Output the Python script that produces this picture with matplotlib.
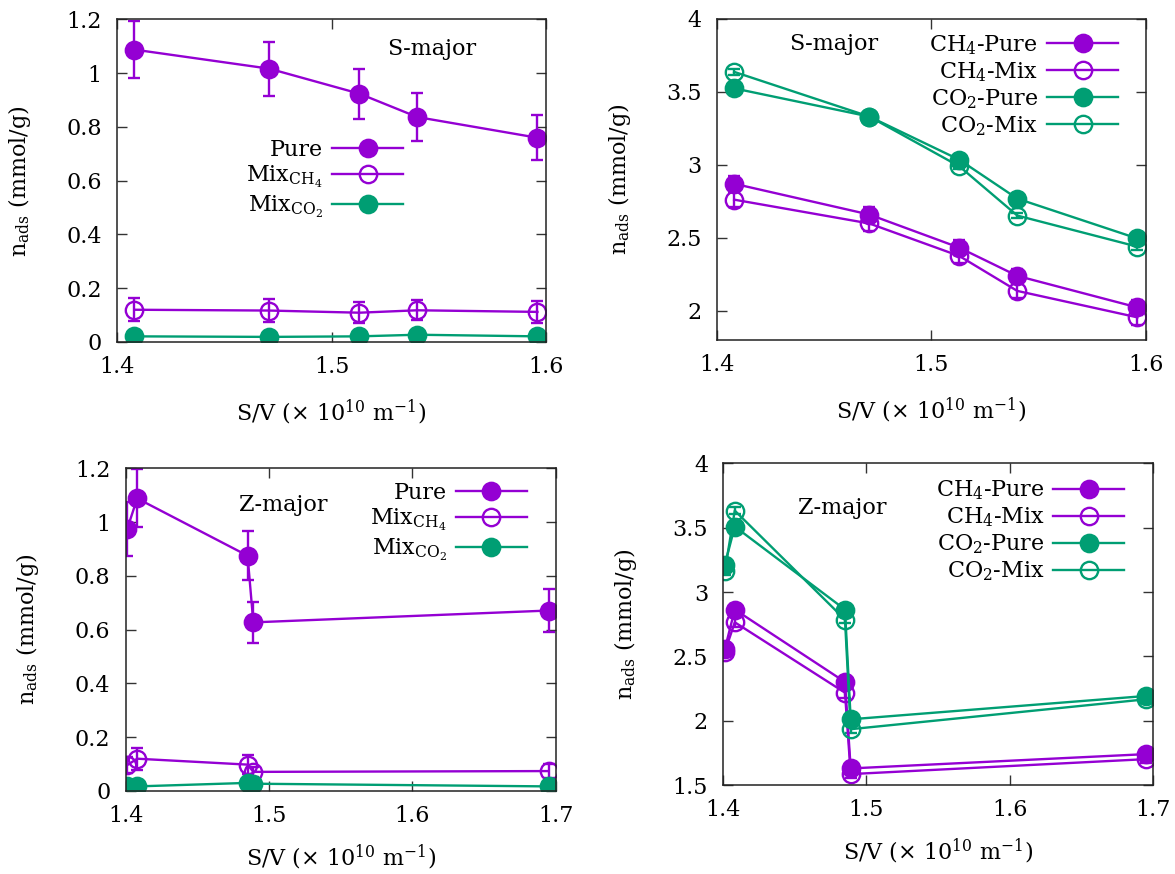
import matplotlib
matplotlib.use("Agg")
import matplotlib.pyplot as plt

plt.rcParams['font.family'] = ['DejaVu Serif']
plt.rcParams['mathtext.fontset'] = 'dejavuserif'

PURPLE = '#9400D3'
GREEN = '#009E73'

# S-major, x = S/V (x 10^10 m^-1)
s_x = [1.408, 1.471, 1.513, 1.540, 1.596]
# left panel: total adsorption
s_pure = [1.088, 1.017, 0.924, 0.837, 0.760]
s_pure_err = [0.105, 0.100, 0.093, 0.088, 0.084]
s_mix_ch4 = [0.120, 0.117, 0.109, 0.118, 0.112]
s_mix_ch4_err = [0.043, 0.042, 0.038, 0.038, 0.040]
s_mix_co2 = [0.021, 0.019, 0.021, 0.027, 0.021]
s_mix_co2_err = [0.005, 0.005, 0.005, 0.005, 0.005]
# right panel
s_ch4_pure = [2.870, 2.659, 2.432, 2.239, 2.023]
s_ch4_mix = [2.761, 2.598, 2.375, 2.136, 1.955]
s_co2_pure = [3.523, 3.330, 3.034, 2.768, 2.495]
s_co2_mix = [3.636, 3.330, 2.989, 2.652, 2.439]
s_ch4_err = [0.05, 0.05, 0.05, 0.05, 0.05]
s_co2_err = [0.02, 0.02, 0.02, 0.02, 0.02]

# Z-major
z_x = [1.401, 1.408, 1.485, 1.489, 1.695]
z_pure = [0.974, 1.088, 0.875, 0.627, 0.671]
z_pure_err = [0.100, 0.108, 0.092, 0.075, 0.080]
z_mix_ch4 = [0.096, 0.120, 0.098, 0.071, 0.074]
z_mix_ch4_err = [0.030, 0.041, 0.035, 0.020, 0.025]
z_mix_co2 = [0.019, 0.017, 0.030, 0.027, 0.017]
z_mix_co2_err = [0.005, 0.005, 0.005, 0.005, 0.005]
z_ch4_pure = [2.554, 2.864, 2.301, 1.629, 1.740]
z_ch4_mix = [2.533, 2.765, 2.218, 1.585, 1.701]
z_co2_pure = [3.212, 3.509, 2.864, 2.011, 2.192]
z_co2_mix = [3.161, 3.633, 2.786, 1.934, 2.166]
z_ch4_err = [0.04, 0.04, 0.04, 0.03, 0.03]
z_co2_err = [0.03, 0.03, 0.03, 0.03, 0.03]

left_labels = ['Pure', r'Mix$_{\mathrm{CH_4}}$', r'Mix$_{\mathrm{CO_2}}$']
right_labels = [r'CH$_4$-Pure', r'CH$_4$-Mix', r'CO$_2$-Pure', r'CO$_2$-Mix']

FS = 16

fig = plt.figure(figsize=(11.75, 8.74), dpi=100)
ax1 = fig.add_axes([0.0996, 0.6087, 0.3651, 0.369])
ax2 = fig.add_axes([0.6102, 0.6110, 0.3651, 0.3676])
ax3 = fig.add_axes([0.1070, 0.0950, 0.3660, 0.3692])
ax4 = fig.add_axes([0.6156, 0.1018, 0.3654, 0.3680])


def series(ax, x, y, err, color, filled):
    c = ax.errorbar(x, y, yerr=err, color=color, lw=1.7, elinewidth=1.7,
                    capsize=4.5, capthick=1.7, marker='o', ms=12.5,
                    mfc=color if filled else 'none', mec=color, mew=1.7)
    return c[0]


def style(ax, xlim, xticks, ylim, yticks, yfmt, xpad):
    ax.set_xlim(xlim)
    ax.set_ylim(ylim)
    ax.set_xticks(xticks)
    ax.set_xticklabels([str(t) for t in xticks])
    ax.set_yticks(yticks)
    ax.set_yticklabels([yfmt(t) for t in yticks])
    ax.tick_params(direction='in', top=True, right=True, length=7, width=1,
                   labelsize=FS, color='#333333')
    ax.tick_params(axis='x', pad=10)
    ax.tick_params(axis='y', pad=11)
    for s in ax.spines.values():
        s.set_linewidth(1.1)
        s.set_color('#222222')
    ax.set_xlabel(r'S/V ($\times$ 10$^{10}$ m$^{-1}$)', fontsize=FS, labelpad=xpad)
    ax.set_ylabel(r'n$_{\mathrm{ads}}$ (mmol/g)', fontsize=FS, labelpad=24)


def fmt_a(t):
    return '0' if t == 0 else ('1' if abs(t - 1) < 1e-9 else f'{t:.1f}')


def fmt_b(t):
    return str(int(t)) if abs(t - round(t)) < 1e-9 else f'{t:.1f}'


def legend(ax, handles, labels, anchor):
    ax.legend(handles, labels, loc='upper right', bbox_to_anchor=anchor,
              frameon=False, markerfirst=False, fontsize=FS, handlelength=3.2,
              handletextpad=0.4, labelspacing=0.15, borderaxespad=0,
              borderpad=0, numpoints=1)


# top left
h = [series(ax1, s_x, s_pure, s_pure_err, PURPLE, True),
     series(ax1, s_x, s_mix_ch4, s_mix_ch4_err, PURPLE, False),
     series(ax1, s_x, s_mix_co2, s_mix_co2_err, GREEN, True)]
style(ax1, (1.4, 1.6), [1.4, 1.5, 1.6], (0, 1.2),
      [0, 0.2, 0.4, 0.6, 0.8, 1.0, 1.2], fmt_a, 14)
legend(ax1, h, left_labels, (0.667, 0.63))
ax1.text(0.733, 0.91, 'S-major', transform=ax1.transAxes, ha='center',
         va='center', fontsize=FS)

# top right
h = [series(ax2, s_x, s_ch4_pure, s_ch4_err, PURPLE, True),
     series(ax2, s_x, s_ch4_mix, s_ch4_err, PURPLE, False),
     series(ax2, s_x, s_co2_pure, s_co2_err, GREEN, True),
     series(ax2, s_x, s_co2_mix, s_co2_err, GREEN, False)]
style(ax2, (1.4, 1.6), [1.4, 1.5, 1.6], (1.8, 4.0),
      [2.0, 2.5, 3.0, 3.5, 4.0], fmt_b, 14)
legend(ax2, h, right_labels, (0.935, 0.955))
ax2.text(0.273, 0.922, 'S-major', transform=ax2.transAxes, ha='center',
         va='center', fontsize=FS)

# bottom left
h = [series(ax3, z_x, z_pure, z_pure_err, PURPLE, True),
     series(ax3, z_x, z_mix_ch4, z_mix_ch4_err, PURPLE, False),
     series(ax3, z_x, z_mix_co2, z_mix_co2_err, GREEN, True)]
style(ax3, (1.4, 1.7), [1.4, 1.5, 1.6, 1.7], (0, 1.2),
      [0, 0.2, 0.4, 0.6, 0.8, 1.0, 1.2], fmt_a, 11)
legend(ax3, h, left_labels, (0.933, 0.958))
ax3.text(0.366, 0.886, 'Z-major', transform=ax3.transAxes, ha='center',
         va='center', fontsize=FS)

# bottom right
h = [series(ax4, z_x, z_ch4_pure, z_ch4_err, PURPLE, True),
     series(ax4, z_x, z_ch4_mix, z_ch4_err, PURPLE, False),
     series(ax4, z_x, z_co2_pure, z_co2_err, GREEN, True),
     series(ax4, z_x, z_co2_mix, z_co2_err, GREEN, False)]
style(ax4, (1.4, 1.7), [1.4, 1.5, 1.6, 1.7], (1.5, 4.0),
      [1.5, 2.0, 2.5, 3.0, 3.5, 4.0], fmt_b, 11)
legend(ax4, h, right_labels, (0.934, 0.952))
ax4.text(0.278, 0.861, 'Z-major', transform=ax4.transAxes, ha='center',
         va='center', fontsize=FS)

fig.savefig('out.png', dpi=100)
